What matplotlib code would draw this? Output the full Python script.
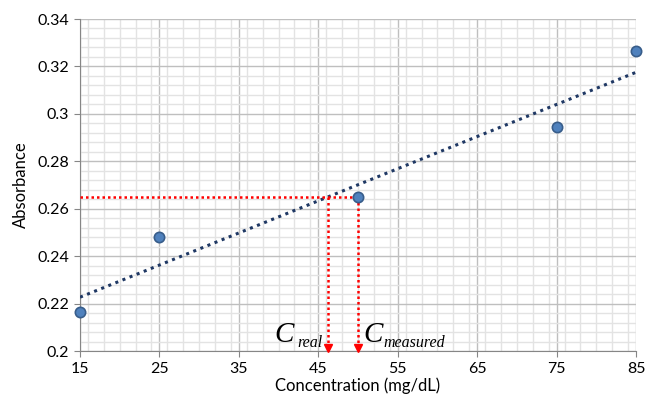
import numpy as np
import matplotlib
matplotlib.use("Agg")
import matplotlib.pyplot as plt
from matplotlib.ticker import MultipleLocator

# data
concentration = [15, 25, 50, 75, 85]
absorbance = [0.2165, 0.248, 0.265, 0.2945, 0.3265]
x_ticks = [15, 25, 35, 45, 55, 65, 75, 85]
y_ticks = [0.2, 0.22, 0.24, 0.26, 0.28, 0.3, 0.32, 0.34]
y_tick_labels = ["0.2", "0.22", "0.24", "0.26", "0.28", "0.3", "0.32", "0.34"]
measured_abs = 0.265
c_measured = 50

plt.rcParams["font.family"] = ["Lato", "DejaVu Sans"]

fig = plt.figure(figsize=(6.49, 4.03), dpi=100)
ax = fig.add_axes([80 / 649, 1 - 351 / 403, 556 / 649, 332 / 403])

# linear trendline
slope, intercept = np.polyfit(concentration, absorbance, 1)
c_real = (measured_abs - intercept) / slope
xfit = np.array([x_ticks[0], x_ticks[-1]])
ax.plot(xfit, slope * xfit + intercept, color="#1F3864", linestyle=(0, (1, 1.5)),
        linewidth=2.2, zorder=3)

# red guide lines
red = "#FF0000"
ax.plot([x_ticks[0], c_measured], [measured_abs, measured_abs], color=red,
        linestyle=(0, (1, 1.2)), linewidth=1.8, zorder=3)
for xv in [c_real, c_measured]:
    ax.plot([xv, xv], [measured_abs, y_ticks[0] + 0.0015], color=red,
            linestyle=(0, (1, 1.2)), linewidth=1.8, zorder=3)
    ax.plot([xv], [y_ticks[0] + 0.0012], marker="v", color=red, markersize=5.5,
            zorder=4, clip_on=False)

ax.scatter(concentration, absorbance, s=55, color="#4F81BD", edgecolor="#385D8A",
           linewidth=1.2, zorder=5, clip_on=False)

# labels: big italic C with a smaller, lowered subscript
serif = ["Liberation Serif", "DejaVu Serif"]
ax.annotate("real", (c_real, 0.2045), xytext=(-4, -5), textcoords="offset points",
            ha="right", va="baseline", fontsize=11.5, style="italic", family=serif)
ax.annotate("C", (c_real, 0.2045), xytext=(-4 - 20.5, -1), textcoords="offset points",
            ha="right", va="baseline", fontsize=21, style="italic", family=serif)
ax.annotate("C", (c_measured, 0.2045), xytext=(4, -1), textcoords="offset points",
            ha="left", va="baseline", fontsize=21, style="italic", family=serif)
ax.annotate("measured", (c_measured, 0.2045), xytext=(4 + 14.5, -5),
            textcoords="offset points", ha="left", va="baseline", fontsize=11.5,
            style="italic", family=serif)

ax.set_xlim(15, 85)
ax.set_ylim(0.2, 0.34)
ax.set_xticks(x_ticks)
ax.set_yticks(y_ticks)
ax.set_yticklabels(y_tick_labels)
ax.xaxis.set_minor_locator(MultipleLocator(2))
ax.yaxis.set_minor_locator(MultipleLocator(0.004))
ax.grid(which="major", color="#BFBFBF", linewidth=1.0)
ax.grid(which="minor", color="#E3E3E3", linewidth=1.0)
ax.set_axisbelow(True)
for s in ["top", "right"]:
    ax.spines[s].set_visible(False)
for s in ["left", "bottom"]:
    ax.spines[s].set_color("#868686")
ax.tick_params(which="major", length=4, color="#868686", labelsize=11.5, pad=4)
ax.tick_params(which="minor", length=0)

ax.set_xlabel("Concentration (mg/dL)", fontsize=12, labelpad=1)
ax.set_ylabel("Absorbance", fontsize=12, labelpad=6)

fig.savefig("out.png", dpi=100)
